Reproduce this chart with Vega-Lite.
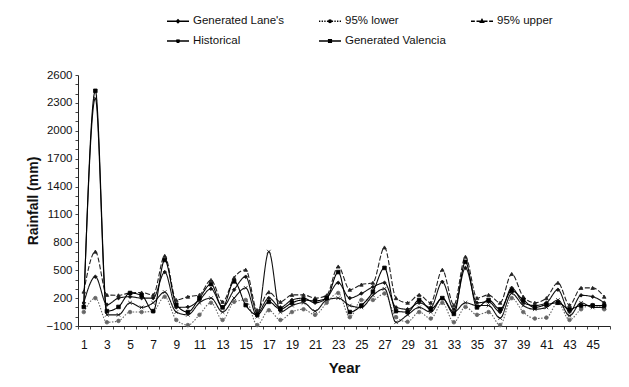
{
  "$schema": "https://vega.github.io/schema/vega-lite/v6.json",
  "width": 532,
  "height": 251,
  "autosize": {"type": "none"},
  "padding": {"left": 78, "top": 75, "right": 19, "bottom": 61},
  "background": "white",
  "config": {
    "font": "Liberation Sans",
    "view": {"stroke": null},
    "axis": {"grid": false, "domainColor": "#222", "tickColor": "#444", "labelColor": "#111", "titleColor": "#111", "labelFont": "Liberation Sans", "titleFont": "Liberation Sans"}
  },
  "data": {
    "values": [
      {"year":1,"series":"Generated Lane's","rain":150},{"year":1,"series":"95% lower","rain":50},{"year":1,"series":"95% upper","rain":270},{"year":1,"series":"Historical","rain":130},{"year":1,"series":"Generated Valencia","rain":105},
      {"year":2,"series":"Generated Lane's","rain":430},{"year":2,"series":"95% lower","rain":200},{"year":2,"series":"95% upper","rain":700},{"year":2,"series":"Historical","rain":2350},{"year":2,"series":"Generated Valencia","rain":2430},
      {"year":3,"series":"Generated Lane's","rain":130},{"year":3,"series":"95% lower","rain":-60},{"year":3,"series":"95% upper","rain":235},{"year":3,"series":"Historical","rain":20},{"year":3,"series":"Generated Valencia","rain":60},
      {"year":4,"series":"Generated Lane's","rain":200},{"year":4,"series":"95% lower","rain":-45},{"year":4,"series":"95% upper","rain":230},{"year":4,"series":"Historical","rain":20},{"year":4,"series":"Generated Valencia","rain":105},
      {"year":5,"series":"Generated Lane's","rain":215},{"year":5,"series":"95% lower","rain":50},{"year":5,"series":"95% upper","rain":255},{"year":5,"series":"Historical","rain":150},{"year":5,"series":"Generated Valencia","rain":255},
      {"year":6,"series":"Generated Lane's","rain":200},{"year":6,"series":"95% lower","rain":50},{"year":6,"series":"95% upper","rain":260},{"year":6,"series":"Historical","rain":100},{"year":6,"series":"Generated Valencia","rain":230},
      {"year":7,"series":"Generated Lane's","rain":200},{"year":7,"series":"95% lower","rain":60},{"year":7,"series":"95% upper","rain":235},{"year":7,"series":"Historical","rain":150},{"year":7,"series":"Generated Valencia","rain":60},
      {"year":8,"series":"Generated Lane's","rain":480},{"year":8,"series":"95% lower","rain":215},{"year":8,"series":"95% upper","rain":655},{"year":8,"series":"Historical","rain":265},{"year":8,"series":"Generated Valencia","rain":610},
      {"year":9,"series":"Generated Lane's","rain":100},{"year":9,"series":"95% lower","rain":-35},{"year":9,"series":"95% upper","rain":180},{"year":9,"series":"Historical","rain":50},{"year":9,"series":"Generated Valencia","rain":130},
      {"year":10,"series":"Generated Lane's","rain":105},{"year":10,"series":"95% lower","rain":-90},{"year":10,"series":"95% upper","rain":215},{"year":10,"series":"Historical","rain":20},{"year":10,"series":"Generated Valencia","rain":50},
      {"year":11,"series":"Generated Lane's","rain":180},{"year":11,"series":"95% lower","rain":20},{"year":11,"series":"95% upper","rain":235},{"year":11,"series":"Historical","rain":150},{"year":11,"series":"Generated Valencia","rain":200},
      {"year":12,"series":"Generated Lane's","rain":300},{"year":12,"series":"95% lower","rain":150},{"year":12,"series":"95% upper","rain":395},{"year":12,"series":"Historical","rain":200},{"year":12,"series":"Generated Valencia","rain":350},
      {"year":13,"series":"Generated Lane's","rain":105},{"year":13,"series":"95% lower","rain":-35},{"year":13,"series":"95% upper","rain":160},{"year":13,"series":"Historical","rain":50},{"year":13,"series":"Generated Valencia","rain":100},
      {"year":14,"series":"Generated Lane's","rain":290},{"year":14,"series":"95% lower","rain":160},{"year":14,"series":"95% upper","rain":420},{"year":14,"series":"Historical","rain":200},{"year":14,"series":"Generated Valencia","rain":380},
      {"year":15,"series":"Generated Lane's","rain":430},{"year":15,"series":"95% lower","rain":180},{"year":15,"series":"95% upper","rain":505},{"year":15,"series":"Historical","rain":310},{"year":15,"series":"Generated Valencia","rain":125},
      {"year":16,"series":"Generated Lane's","rain":40},{"year":16,"series":"95% lower","rain":-90},{"year":16,"series":"95% upper","rain":70},{"year":16,"series":"Historical","rain":0},{"year":16,"series":"Generated Valencia","rain":20},
      {"year":17,"series":"Generated Lane's","rain":200},{"year":17,"series":"95% lower","rain":70},{"year":17,"series":"95% upper","rain":265},{"year":17,"series":"Historical","rain":700},{"year":17,"series":"Generated Valencia","rain":160},
      {"year":18,"series":"Generated Lane's","rain":100},{"year":18,"series":"95% lower","rain":-35},{"year":18,"series":"95% upper","rain":160},{"year":18,"series":"Historical","rain":50},{"year":18,"series":"Generated Valencia","rain":80},
      {"year":19,"series":"Generated Lane's","rain":180},{"year":19,"series":"95% lower","rain":50},{"year":19,"series":"95% upper","rain":235},{"year":19,"series":"Historical","rain":120},{"year":19,"series":"Generated Valencia","rain":150},
      {"year":20,"series":"Generated Lane's","rain":200},{"year":20,"series":"95% lower","rain":80},{"year":20,"series":"95% upper","rain":235},{"year":20,"series":"Historical","rain":150},{"year":20,"series":"Generated Valencia","rain":180},
      {"year":21,"series":"Generated Lane's","rain":150},{"year":21,"series":"95% lower","rain":20},{"year":21,"series":"95% upper","rain":200},{"year":21,"series":"Historical","rain":60},{"year":21,"series":"Generated Valencia","rain":170},
      {"year":22,"series":"Generated Lane's","rain":200},{"year":22,"series":"95% lower","rain":150},{"year":22,"series":"95% upper","rain":230},{"year":22,"series":"Historical","rain":180},{"year":22,"series":"Generated Valencia","rain":200},
      {"year":23,"series":"Generated Lane's","rain":365},{"year":23,"series":"95% lower","rain":255},{"year":23,"series":"95% upper","rain":540},{"year":23,"series":"Historical","rain":200},{"year":23,"series":"Generated Valencia","rain":480},
      {"year":24,"series":"Generated Lane's","rain":200},{"year":24,"series":"95% lower","rain":-5},{"year":24,"series":"95% upper","rain":290},{"year":24,"series":"Historical","rain":120},{"year":24,"series":"Generated Valencia","rain":50},
      {"year":25,"series":"Generated Lane's","rain":250},{"year":25,"series":"95% lower","rain":180},{"year":25,"series":"95% upper","rain":345},{"year":25,"series":"Historical","rain":100},{"year":25,"series":"Generated Valencia","rain":120},
      {"year":26,"series":"Generated Lane's","rain":320},{"year":26,"series":"95% lower","rain":180},{"year":26,"series":"95% upper","rain":365},{"year":26,"series":"Historical","rain":230},{"year":26,"series":"Generated Valencia","rain":270},
      {"year":27,"series":"Generated Lane's","rain":365},{"year":27,"series":"95% lower","rain":250},{"year":27,"series":"95% upper","rain":745},{"year":27,"series":"Historical","rain":300},{"year":27,"series":"Generated Valencia","rain":525},
      {"year":28,"series":"Generated Lane's","rain":100},{"year":28,"series":"95% lower","rain":-5},{"year":28,"series":"95% upper","rain":200},{"year":28,"series":"Historical","rain":-60},{"year":28,"series":"Generated Valencia","rain":60},
      {"year":29,"series":"Generated Lane's","rain":80},{"year":29,"series":"95% lower","rain":-55},{"year":29,"series":"95% upper","rain":150},{"year":29,"series":"Historical","rain":20},{"year":29,"series":"Generated Valencia","rain":50},
      {"year":30,"series":"Generated Lane's","rain":150},{"year":30,"series":"95% lower","rain":50},{"year":30,"series":"95% upper","rain":235},{"year":30,"series":"Historical","rain":100},{"year":30,"series":"Generated Valencia","rain":180},
      {"year":31,"series":"Generated Lane's","rain":100},{"year":31,"series":"95% lower","rain":-20},{"year":31,"series":"95% upper","rain":150},{"year":31,"series":"Historical","rain":50},{"year":31,"series":"Generated Valencia","rain":80},
      {"year":32,"series":"Generated Lane's","rain":375},{"year":32,"series":"95% lower","rain":150},{"year":32,"series":"95% upper","rain":505},{"year":32,"series":"Historical","rain":200},{"year":32,"series":"Generated Valencia","rain":200},
      {"year":33,"series":"Generated Lane's","rain":80},{"year":33,"series":"95% lower","rain":-60},{"year":33,"series":"95% upper","rain":125},{"year":33,"series":"Historical","rain":50},{"year":33,"series":"Generated Valencia","rain":30},
      {"year":34,"series":"Generated Lane's","rain":525},{"year":34,"series":"95% lower","rain":105},{"year":34,"series":"95% upper","rain":645},{"year":34,"series":"Historical","rain":150},{"year":34,"series":"Generated Valencia","rain":590},
      {"year":35,"series":"Generated Lane's","rain":150},{"year":35,"series":"95% lower","rain":20},{"year":35,"series":"95% upper","rain":200},{"year":35,"series":"Historical","rain":120},{"year":35,"series":"Generated Valencia","rain":100},
      {"year":36,"series":"Generated Lane's","rain":160},{"year":36,"series":"95% lower","rain":50},{"year":36,"series":"95% upper","rain":235},{"year":36,"series":"Historical","rain":120},{"year":36,"series":"Generated Valencia","rain":180},
      {"year":37,"series":"Generated Lane's","rain":50},{"year":37,"series":"95% lower","rain":-90},{"year":37,"series":"95% upper","rain":150},{"year":37,"series":"Historical","rain":-15},{"year":37,"series":"Generated Valencia","rain":80},
      {"year":38,"series":"Generated Lane's","rain":310},{"year":38,"series":"95% lower","rain":200},{"year":38,"series":"95% upper","rain":460},{"year":38,"series":"Historical","rain":250},{"year":38,"series":"Generated Valencia","rain":280},
      {"year":39,"series":"Generated Lane's","rain":150},{"year":39,"series":"95% lower","rain":50},{"year":39,"series":"95% upper","rain":215},{"year":39,"series":"Historical","rain":120},{"year":39,"series":"Generated Valencia","rain":180},
      {"year":40,"series":"Generated Lane's","rain":120},{"year":40,"series":"95% lower","rain":-20},{"year":40,"series":"95% upper","rain":150},{"year":40,"series":"Historical","rain":80},{"year":40,"series":"Generated Valencia","rain":100},
      {"year":41,"series":"Generated Lane's","rain":150},{"year":41,"series":"95% lower","rain":-10},{"year":41,"series":"95% upper","rain":200},{"year":41,"series":"Historical","rain":100},{"year":41,"series":"Generated Valencia","rain":130},
      {"year":42,"series":"Generated Lane's","rain":290},{"year":42,"series":"95% lower","rain":150},{"year":42,"series":"95% upper","rain":365},{"year":42,"series":"Historical","rain":180},{"year":42,"series":"Generated Valencia","rain":150},
      {"year":43,"series":"Generated Lane's","rain":50},{"year":43,"series":"95% lower","rain":-35},{"year":43,"series":"95% upper","rain":125},{"year":43,"series":"Historical","rain":10},{"year":43,"series":"Generated Valencia","rain":80},
      {"year":44,"series":"Generated Lane's","rain":230},{"year":44,"series":"95% lower","rain":80},{"year":44,"series":"95% upper","rain":310},{"year":44,"series":"Historical","rain":150},{"year":44,"series":"Generated Valencia","rain":120},
      {"year":45,"series":"Generated Lane's","rain":215},{"year":45,"series":"95% lower","rain":125},{"year":45,"series":"95% upper","rain":310},{"year":45,"series":"Historical","rain":100},{"year":45,"series":"Generated Valencia","rain":120},
      {"year":46,"series":"Generated Lane's","rain":150},{"year":46,"series":"95% lower","rain":80},{"year":46,"series":"95% upper","rain":215},{"year":46,"series":"Historical","rain":100},{"year":46,"series":"Generated Valencia","rain":120}
    ]
  },
  "encoding": {
    "x": {
      "field": "year", "type": "quantitative",
      "scale": {"domain": [0.5, 46.5], "nice": false, "zero": false},
      "axis": {
        "title": "Year", "titleFontSize": 15, "titleFontWeight": "bold", "titlePadding": 10,
        "values": [0.5,1.5,2.5,3.5,4.5,5.5,6.5,7.5,8.5,9.5,10.5,11.5,12.5,13.5,14.5,15.5,16.5,17.5,18.5,19.5,20.5,21.5,22.5,23.5,24.5,25.5,26.5,27.5,28.5,29.5,30.5,31.5,32.5,33.5,34.5,35.5,36.5,37.5,38.5,39.5,40.5,41.5,42.5,43.5,44.5,45.5,46.5],
        "labelExpr": "((datum.value + 0.5) % 2 == 1 && datum.value < 46) ? format(datum.value + 0.5, 'd') : ''",
        "labelOffset": 5.8, "labelOverlap": false, "labelBound": false, "labelFlush": false,
        "labelFontSize": 12, "labelPadding": 10, "tickSize": 3, "domainWidth": 1
      }
    },
    "y": {
      "field": "rain", "type": "quantitative",
      "scale": {"domain": [-100, 2600], "nice": false, "zero": false},
      "axis": {
        "title": "Rainfall (mm)", "titleFontSize": 14, "titleFontWeight": "bold", "titlePadding": 6,
        "values": [-100,0,100,200,300,400,500,600,700,800,900,1000,1100,1200,1300,1400,1500,1600,1700,1800,1900,2000,2100,2200,2300,2400,2500,2600],
        "labelExpr": "(datum.value + 100) % 300 == 0 ? datum.label : ''",
        "format": "d", "labelOverlap": false, "labelFontSize": 11.5, "labelPadding": 3, "tickSize": 3, "domainWidth": 1
      }
    }
  },
  "layer": [
    {
      "mark": {"type": "line", "interpolate": "monotone"},
      "encoding": {
        "color": {"field": "series", "type": "nominal", "legend": null,
          "scale": {"domain": ["Generated Lane's","95% lower","95% upper","Historical","Generated Valencia"], "range": ["#111111","#666666","#222222","#111111","#000000"]}},
        "strokeDash": {"field": "series", "type": "nominal", "legend": null,
          "scale": {"domain": ["Generated Lane's","95% lower","95% upper","Historical","Generated Valencia"], "range": [[1,0],[1.5,1.5],[5,2],[1,0],[1,0]]}},
        "strokeWidth": {"field": "series", "type": "nominal", "legend": null,
          "scale": {"domain": ["Generated Lane's","95% lower","95% upper","Historical","Generated Valencia"], "range": [1.1,1.1,1.1,1.1,1.9]}}
      }
    },
    {
      "mark": {"type": "point", "filled": true, "opacity": 1, "strokeWidth": 0.8, "size": 13},
      "encoding": {
        "shape": {"field": "series", "type": "nominal", "legend": null,
          "scale": {"domain": ["Generated Lane's","95% lower","95% upper","Historical","Generated Valencia"], "range": ["diamond","circle","triangle-up","M-1,-1L1,1M-1,1L1,-1","square"]}},
        "color": {"field": "series", "type": "nominal", "legend": null},
        "stroke": {"field": "series", "type": "nominal", "legend": null,
          "scale": {"domain": ["Generated Lane's","95% lower","95% upper","Historical","Generated Valencia"], "range": ["#111111","#666666","#222222","#111111","#000000"]}}
      }
    },
    {
      "transform": [{"filter": "datum.year > 1000"}],
      "mark": {"type": "point", "filled": true, "fill": "black", "stroke": "black", "strokeWidth": 1, "opacity": 1},
      "encoding": {
        "shape": {"field": "series", "type": "nominal",
          "scale": {"domain": ["Generated Lane's","95% lower","95% upper","Historical","Generated Valencia"],
            "range": [
              "M-1,0L1,0M0,-0.13L0.13,0L0,0.13L-0.13,0Z",
              "M-1,0L-0.88,0M-0.76,0L-0.64,0M-0.52,0L-0.4,0M-0.28,0L-0.16,0M0.16,0L0.28,0M0.4,0L0.52,0M0.64,0L0.76,0M0.88,0L1,0M0.11,0A0.11,0.11 0 1,1 -0.11,0A0.11,0.11 0 1,1 0.11,0Z",
              "M-1,0L-0.65,0M-0.5,0L-0.15,0M0.15,0L0.5,0M0.65,0L1,0M0,-0.15L0.14,0.1L-0.14,0.1Z",
              "M-1,0L1,0M-0.13,-0.13L0.13,0.13M-0.13,0.13L0.13,-0.13",
              "M-1,0L1,0M-0.12,-0.12L0.12,-0.12L0.12,0.12L-0.12,0.12Z"
            ]},
          "legend": {
            "title": null, "orient": "none", "legendX": 88, "legendY": -66,
            "columns": 3, "direction": "horizontal", "gridAlign": "all",
            "columnPadding": 22, "rowPadding": 2, "padding": 0,
            "symbolSize": 484, "labelOffset": 3, "labelFontSize": 11.5, "labelFont": "Liberation Sans", "labelColor": "#111",
            "labelLimit": 200,
            "encode": {"symbols": {"update": {"stroke": {"value": "black"}, "fill": {"value": "black"}, "strokeWidth": {"value": 1.1}, "opacity": {"value": 1}}}}
          }
        }
      }
    }
  ],
  "resolve": {"scale": {"shape": "independent"}}
}
